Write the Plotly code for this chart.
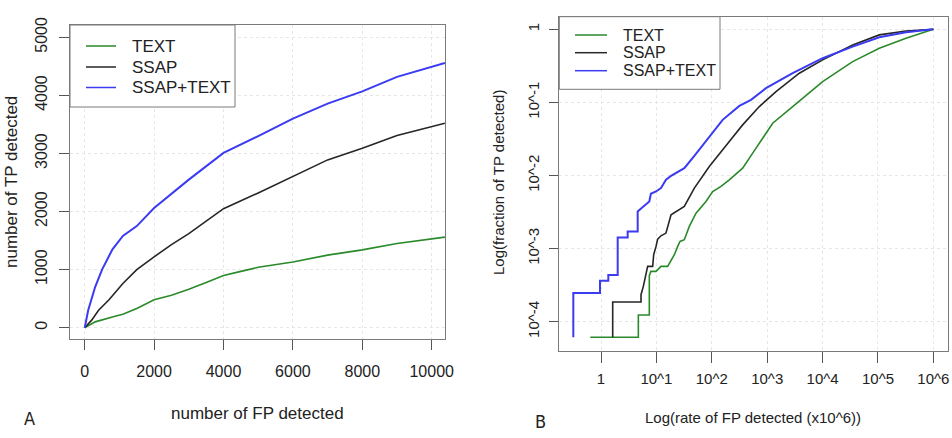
import numpy as np
import plotly.graph_objects as go

W, H = 952, 438

# ---------------- Panel A data (linear) ----------------
a_text_x = [0, 300, 900, 1100, 1500, 2000, 2500, 3000, 3500, 4000, 4500, 5000, 6000, 7000, 8000, 9000, 10380]
a_text_y = [0, 100, 200, 230, 330, 480, 560, 660, 780, 900, 970, 1040, 1130, 1250, 1340, 1450, 1560]

a_ssap_x = [0, 200, 400, 700, 1100, 1500, 2000, 2500, 3000, 3500, 4000, 5000, 6000, 7000, 8000, 9000, 10380]
a_ssap_y = [0, 130, 300, 480, 760, 1000, 1220, 1430, 1620, 1830, 2050, 2320, 2610, 2890, 3090, 3310, 3520]

a_both_x = [0, 100, 300, 500, 800, 1100, 1500, 2000, 3000, 4000, 5000, 6000, 7000, 8000, 9000, 10380]
a_both_y = [0, 300, 700, 1000, 1350, 1580, 1750, 2060, 2550, 3010, 3300, 3600, 3860, 4070, 4320, 4560]

# ---------------- Panel B data (log10 exponents) ----------------
b_text_lx = [-0.193, 0.674, 0.674, 0.872, 0.872, 0.90, 0.993, 1.083, 1.203, 1.324, 1.384, 1.426, 1.504, 1.594,
             1.715, 1.895, 2.016, 2.166, 2.316, 2.557, 2.738, 2.918, 3.099, 3.46, 4.001, 4.543, 5.024, 5.505, 6.0]
b_text_ly = [-4.214, -4.214, -3.909, -3.909, -3.371, -3.312, -3.312, -3.244, -3.244, -3.084, -2.97, -2.902, -2.879,
             -2.697, -2.515, -2.355, -2.219, -2.15, -2.059, -1.9, -1.695, -1.49, -1.285, -1.057, -0.715, -0.442,
             -0.26, -0.123, 0.0]

b_ssap_lx = [0.211, 0.211, 0.722, 0.722, 0.764, 0.812, 0.842, 0.933, 0.951, 0.993, 1.023, 1.083, 1.173, 1.264,
             1.354, 1.504, 1.685, 1.955, 2.316, 2.557, 2.858, 3.159, 3.58, 4.001, 4.543, 5.024, 5.505, 6.0]
b_ssap_ly = [-4.214, -3.731, -3.731, -3.631, -3.517, -3.326, -3.244, -3.244, -3.084, -2.97, -2.87, -2.825, -2.788,
             -2.538, -2.492, -2.424, -2.173, -1.877, -1.535, -1.308, -1.057, -0.852, -0.601, -0.419, -0.214,
             -0.077, -0.023, 0.0]

b_both_lx = [-0.5, -0.5, -0.018, -0.018, 0.132, 0.132, 0.301, 0.301, 0.481, 0.481, 0.662, 0.662, 0.734, 0.872,
             0.9, 0.993, 1.083, 1.173, 1.264, 1.354, 1.504, 1.685, 1.955, 2.196, 2.497, 2.708, 2.978, 3.46, 4.001,
             4.543, 5.024, 5.505, 6.0]
b_both_ly = [-4.214, -3.608, -3.608, -3.44, -3.44, -3.362, -3.362, -2.847, -2.847, -2.765, -2.765, -2.492, -2.446,
             -2.355, -2.25, -2.219, -2.173, -2.059, -2.005, -1.968, -1.9, -1.731, -1.467, -1.239, -1.048, -0.966,
             -0.806, -0.601, -0.396, -0.237, -0.109, -0.041, 0.0]

series_names = ["TEXT", "SSAP", "SSAP+TEXT"]
series_colors = ["#2a8a2a", "#262626", "#3b3bf2"]

a_ticks_x = [0, 2000, 4000, 6000, 8000, 10000]
a_ticktext_x = ["0", "2000", "4000", "6000", "8000", "10000"]
a_ticks_y = [0, 1000, 2000, 3000, 4000, 5000]
a_ticktext_y = ["0", "1000", "2000", "3000", "4000", "5000"]
b_ticks_x = [1, 10, 100, 1000, 10000, 100000, 1000000]
b_ticktext_x = ["1", "10^1", "10^2", "10^3", "10^4", "10^5", "10^6"]
b_ticks_y = [1e-4, 1e-3, 1e-2, 1e-1, 1]
b_ticktext_y = ["10^-4", "10^-3", "10^-2", "10^-1", "1"]


def px(x):
    return x / W


def py(y):
    return 1 - y / H


FONT = "Liberation Sans, Arial, sans-serif"
TXT = "#222222"

fig = go.Figure()

a_sets = [(a_text_x, a_text_y), (a_ssap_x, a_ssap_y), (a_both_x, a_both_y)]
a_widths = [1.6, 1.6, 2]
for (xs, ys), name, col, lw in zip(a_sets, series_names, series_colors, a_widths):
    fig.add_trace(go.Scatter(x=xs, y=ys, mode="lines", name=name, showlegend=False,
                             line=dict(color=col, width=lw), xaxis="x", yaxis="y"))

b_sets = [(b_text_lx, b_text_ly), (b_ssap_lx, b_ssap_ly), (b_both_lx, b_both_ly)]
for (lx, ly), name, col, lw in zip(b_sets, series_names, series_colors, a_widths):
    fig.add_trace(go.Scatter(x=np.power(10.0, lx), y=np.power(10.0, ly), mode="lines", name=name,
                             showlegend=False, line=dict(color=col, width=lw), xaxis="x2", yaxis="y2"))

axis_common = dict(showline=True, mirror=True, linecolor="#7a7a7a", linewidth=1, automargin=False,
                   ticks="outside", ticklen=10, tickcolor="#555555", tickwidth=1,
                   showgrid=True, gridcolor="#e6e6e6", griddash="dot", gridwidth=1,
                   zeroline=False, tickfont=dict(family=FONT, size=16, color=TXT))

fig.update_layout(
    width=W, height=H, margin=dict(l=0, r=0, t=0, b=0, autoexpand=False),
    paper_bgcolor="white", plot_bgcolor="white", showlegend=False,
    xaxis=dict(domain=[px(70), px(445)], range=[-424, 10383], tickvals=a_ticks_x, ticktext=a_ticktext_x,
               ticklabelstandoff=8, anchor="y", **axis_common),
    yaxis=dict(domain=[py(339), py(25)], range=[-195, 5213], tickvals=a_ticks_y, ticktext=a_ticktext_y,
               tickangle=-90, ticklabelstandoff=6, anchor="x", **axis_common),
    xaxis2=dict(domain=[px(559.3), px(948)], type="log", range=[-0.753, 6.264], tickvals=b_ticks_x,
                ticktext=b_ticktext_x, ticklabelstandoff=3, anchor="y2",
                **{**axis_common, "tickfont": dict(family=FONT, size=15, color=TXT), "ticklen": 11}),
    yaxis2=dict(domain=[py(350.7), py(16.7)], type="log", range=[-4.397, 0.172], tickvals=b_ticks_y,
                ticktext=b_ticktext_y, tickangle=-90, ticklabelstandoff=4, anchor="x2",
                **{**axis_common, "tickfont": dict(family=FONT, size=15, color=TXT), "ticklen": 9}),
)

shapes = []
annotations = []


def add_legend(box, line_x, text_x, ys, fsize):
    x0, x1, y0, y1 = box
    shapes.append(dict(type="rect", xref="paper", yref="paper", x0=px(x0), x1=px(x1), y0=py(y1), y1=py(y0),
                       line=dict(color="#7a7a7a", width=1), fillcolor="white", layer="above"))
    for yy, name, col in zip(ys, series_names, series_colors):
        shapes.append(dict(type="line", xref="paper", yref="paper", x0=px(line_x[0]), x1=px(line_x[1]),
                           y0=py(yy), y1=py(yy), line=dict(color=col, width=1.5)))
        annotations.append(dict(text=name, xref="paper", yref="paper", x=px(text_x), y=py(yy),
                                xanchor="left", yanchor="middle", showarrow=False,
                                font=dict(family=FONT, size=fsize, color=TXT)))


add_legend((70, 235, 25, 107), (86, 116), 130, [46, 67, 87.5], 17)
add_legend((559.3, 720, 16.7, 89.3), (575, 607), 621, [35, 52.7, 70.7], 16)


def add_text(t, x, y, size, angle=0, family=FONT):
    annotations.append(dict(text=t, xref="paper", yref="paper", x=px(x), y=py(y), xanchor="center",
                            yanchor="middle", showarrow=False, textangle=angle,
                            font=dict(family=family, size=size, color=TXT)))


add_text("number of FP detected", 257, 413, 17)
add_text("number of TP detected", 11, 182, 17, -90)
add_text("Log(rate of FP detected (x10^6))", 753, 417, 15)
add_text("Log(fraction of TP detected)", 498, 183, 15, -90)
add_text("A", 29, 418, 18, family="Liberation Sans Narrow, DejaVu Sans Condensed, sans-serif")
add_text("B", 540, 421, 18, family="Liberation Sans Narrow, DejaVu Sans Condensed, sans-serif")

fig.update_layout(shapes=shapes, annotations=annotations)
fig.write_html("out.html")
